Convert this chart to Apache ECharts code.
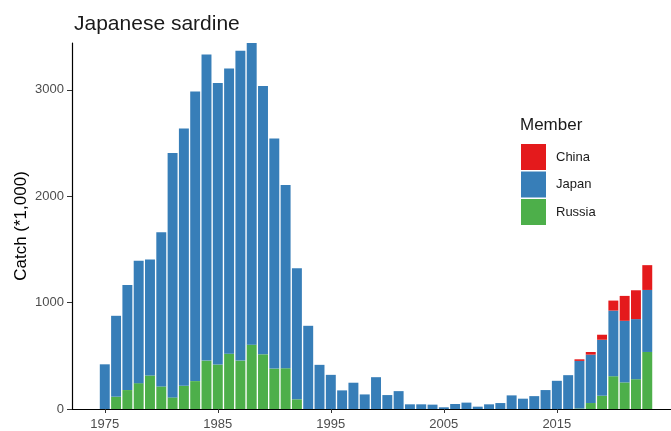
<!DOCTYPE html>
<html>
<head>
<meta charset="utf-8">
<script src="https://cdn.jsdelivr.net/npm/echarts@6/dist/echarts.min.js"></script>
<style>
html,body{margin:0;padding:0;background:#fff;}
#chart{width:671px;height:431px;}
</style>
</head>
<body>
<div id="chart"></div>
<script>
var years = [1975,1976,1977,1978,1979,1980,1981,1982,1983,1984,1985,1986,1987,1988,1989,1990,1991,1992,1993,1994,1995,1996,1997,1998,1999,2000,2001,2002,2003,2004,2005,2006,2007,2008,2009,2010,2011,2012,2013,2014,2015,2016,2017,2018,2019,2020,2021,2022,2023];
var russia = [0,116,178,243,315,212,109,218,262,455,418,520,455,605,514,380,383,91,0,0,0,0,0,0,0,0,0,0,0,0,0,0,0,0,0,0,0,0,0,0,0,0,5,56,125,308,250,280,536];
var japan = [420,760,987,1150,1090,1449,2296,2418,2723,2876,2645,2680,2913,2835,2521,2162,1723,1233,782,415,321,175,247,137,299,131,168,44,44,41,16,47,60,22,44,56,128,97,121,178,265,318,447,455,526,617,579,565,583];
var china = [0,0,0,0,0,0,0,0,0,0,0,0,0,0,0,0,0,0,0,0,0,0,0,0,0,0,0,0,0,0,0,0,0,0,0,0,0,0,0,0,0,0,15,25,47,94,234,271,233];
var xTicks = [1975,1985,1995,2005,2015];
var yTicks = [0,1000,2000,3000];

var FONT = 'Liberation Sans, Arial, sans-serif';
var COLORS = {China:'#E41A1C', Japan:'#377EB8', Russia:'#4DAF4A'};

// stack segments: [year, base, top]
function segments(vals, below){
  return years.map(function(y, i){
    var b = 0;
    below.forEach(function(arr){ b += arr[i]; });
    return [y, b, b + vals[i]];
  });
}

function barItem(color){
  return function(params, api){
    var x = api.value(0), b = api.value(1), t = api.value(2);
    if (t <= b) return null;
    var p0 = api.coord([x, b]), p1 = api.coord([x, t]);
    var w = api.size([0.88, 0])[0];
    return {type:'rect', shape:{x:p0[0]-w/2, y:p1[1], width:w, height:p0[1]-p1[1]},
      style:{fill:color}};
  };
}

function seriesFor(name, vals, below){
  return {name:name, type:'custom', renderItem:barItem(COLORS[name]),
    itemStyle:{color:COLORS[name]}, encode:{x:0, y:[1,2]},
    data:segments(vals, below)};
}

var chart = echarts.init(document.getElementById('chart'), null, {renderer:'canvas'});
chart.setOption({
  animation:false,
  backgroundColor:'#fff',
  textStyle:{fontFamily:FONT},
  title:{text:'Japanese sardine', left:74, top:14, padding:0,
    textStyle:{fontFamily:FONT, fontSize:21, fontWeight:'normal', color:'#1a1a1a'}},
  graphic:[{type:'text', left:520, top:117,
    style:{text:'Member', fontFamily:FONT, fontSize:17, fill:'#1a1a1a'}}],
  legend:{
    data:['China','Japan','Russia'], orient:'vertical', left:521, top:144,
    itemWidth:25, itemHeight:26, itemGap:1.5, padding:0, icon:'rect',
    textStyle:{fontFamily:FONT, fontSize:13, color:'#1a1a1a', padding:[0,0,0,5]}
  },
  grid:{left:72, right:0, top:43, bottom:20, containLabel:false},
  xAxis:{
    type:'value', min:1972.1, max:2025.1,
    axisLine:{lineStyle:{color:'#000', width:1.2}},
    axisTick:{show:true, length:4, lineStyle:{color:'#333'}, customValues:xTicks},
    axisLabel:{color:'#4d4d4d', fontSize:13, fontFamily:FONT, margin:9, customValues:xTicks,
      formatter:function(v){return String(v);}},
    splitLine:{show:false}
  },
  yAxis:{
    type:'value', min:0, max:3440,
    name:'Catch (*1,000)', nameLocation:'middle', nameGap:42, nameMoveOverlap:false,
    nameTextStyle:{fontFamily:FONT, fontSize:17, color:'#000'},
    axisLine:{show:true, lineStyle:{color:'#000', width:1.2}},
    axisTick:{show:true, length:5, lineStyle:{color:'#333'}, customValues:yTicks},
    axisLabel:{color:'#4d4d4d', fontSize:13, fontFamily:FONT, margin:8, customValues:yTicks,
      formatter:function(v){return String(v);}},
    splitLine:{show:false}
  },
  series:[
    seriesFor('Russia', russia, []),
    seriesFor('Japan', japan, [russia]),
    seriesFor('China', china, [russia, japan])
  ]
});
</script>
</body>
</html>
